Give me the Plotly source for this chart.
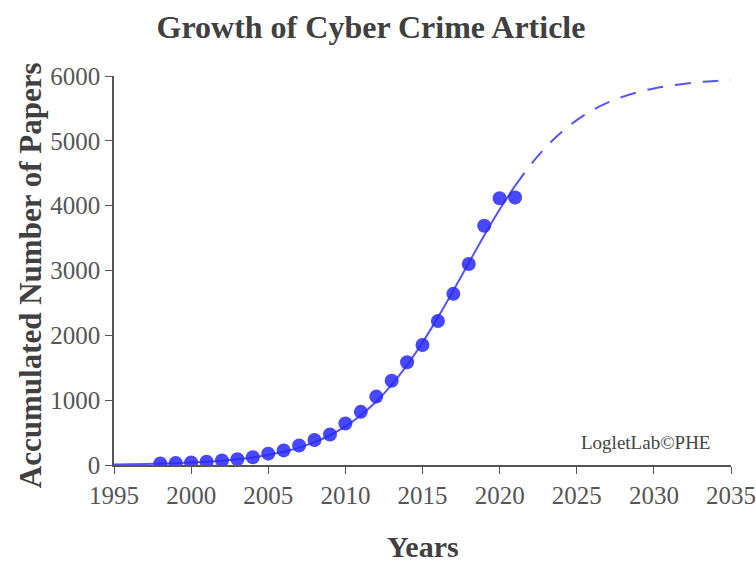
import plotly.graph_objects as go

# Observed data (accumulated papers)
years = list(range(1998, 2022))
papers = [25, 30, 40, 50, 70, 90, 120, 175, 225, 300, 385, 470, 640, 820,
          1055, 1300, 1585, 1850, 2220, 2640, 3100, 3690, 4115, 4125]

# Fitted curve (solid part: 1995-2021, dashed forecast: 2021-2035)
fit_years = list(range(1995, 2022))
fit_vals = [9, 12, 16, 21, 28, 38, 50, 66, 88, 117, 154, 203, 268, 352, 459,
            596, 767, 980, 1237, 1541, 1890, 2277, 2691, 3118, 3540, 3940, 4305]
fc_years = list(range(2021, 2036))
fc_vals = [4305, 4628, 4903, 5133, 5320, 5471, 5589, 5682, 5753, 5808, 5850,
           5882, 5906, 5924, 5938]

x_ticks = [1995, 2000, 2005, 2010, 2015, 2020, 2025, 2030, 2035]
y_ticks = [0, 1000, 2000, 3000, 4000, 5000, 6000]

line_color = "rgb(85,85,245)"
marker_color = "rgba(40,40,255,0.85)"

fig = go.Figure()
fig.add_trace(go.Scatter(x=fit_years, y=fit_vals, mode="lines",
                         line=dict(color=line_color, width=2, shape="spline"),
                         showlegend=False))
fig.add_trace(go.Scatter(x=fc_years, y=fc_vals, mode="lines",
                         line=dict(color=line_color, width=2, dash="16px,12px", shape="spline"),
                         showlegend=False))
fig.add_trace(go.Scatter(x=years, y=papers, mode="markers",
                         marker=dict(color=marker_color, size=14, line=dict(width=0)),
                         showlegend=False))

serif = "Liberation Serif"
axis_col = "#555555"

fig.update_layout(
    width=756, height=567,
    margin=dict(l=114, r=25, t=76, b=102),
    paper_bgcolor="white", plot_bgcolor="white",
    title=dict(text="<b>Growth of Cyber Crime Article</b>", x=371 / 756, xanchor="center",
               y=1 - 27 / 567, yanchor="middle",
               font=dict(family=serif, size=32, color="#404040")),
    xaxis=dict(range=[1995, 2035], tickvals=x_ticks, ticks="outside", ticklen=7,
               tickcolor=axis_col, showline=True, linecolor=axis_col, linewidth=1.5,
               showgrid=False, zeroline=False, automargin=False,
               tickfont=dict(family=serif, size=25, color="#555555")),
    yaxis=dict(range=[0, 6000], tickvals=y_ticks, ticks="outside", ticklen=7,
               tickcolor=axis_col, showline=True, linecolor=axis_col, linewidth=1.5,
               showgrid=False, zeroline=False, automargin=False,
               tickfont=dict(family=serif, size=25, color="#555555")),
    annotations=[
        dict(text="<b>Years</b>", xref="paper", yref="paper", x=(423 - 114) / 617,
             y=-(546 - 465) / 389, xanchor="center", yanchor="middle", showarrow=False,
             font=dict(family=serif, size=30, color="#404040")),
        dict(text="<b>Accumulated Number of Papers</b>", xref="paper", yref="paper",
             x=-(114 - 30) / 617, y=0.488, xanchor="center", yanchor="middle", textangle=-90,
             showarrow=False, font=dict(family=serif, size=31, color="#404040")),
        dict(text="LogletLab©PHE", xref="paper", yref="paper", x=0.861, y=0.059,
             xanchor="center", yanchor="middle", showarrow=False,
             font=dict(family=serif, size=19, color="#444444")),
    ],
)

fig.write_html("out.html")
